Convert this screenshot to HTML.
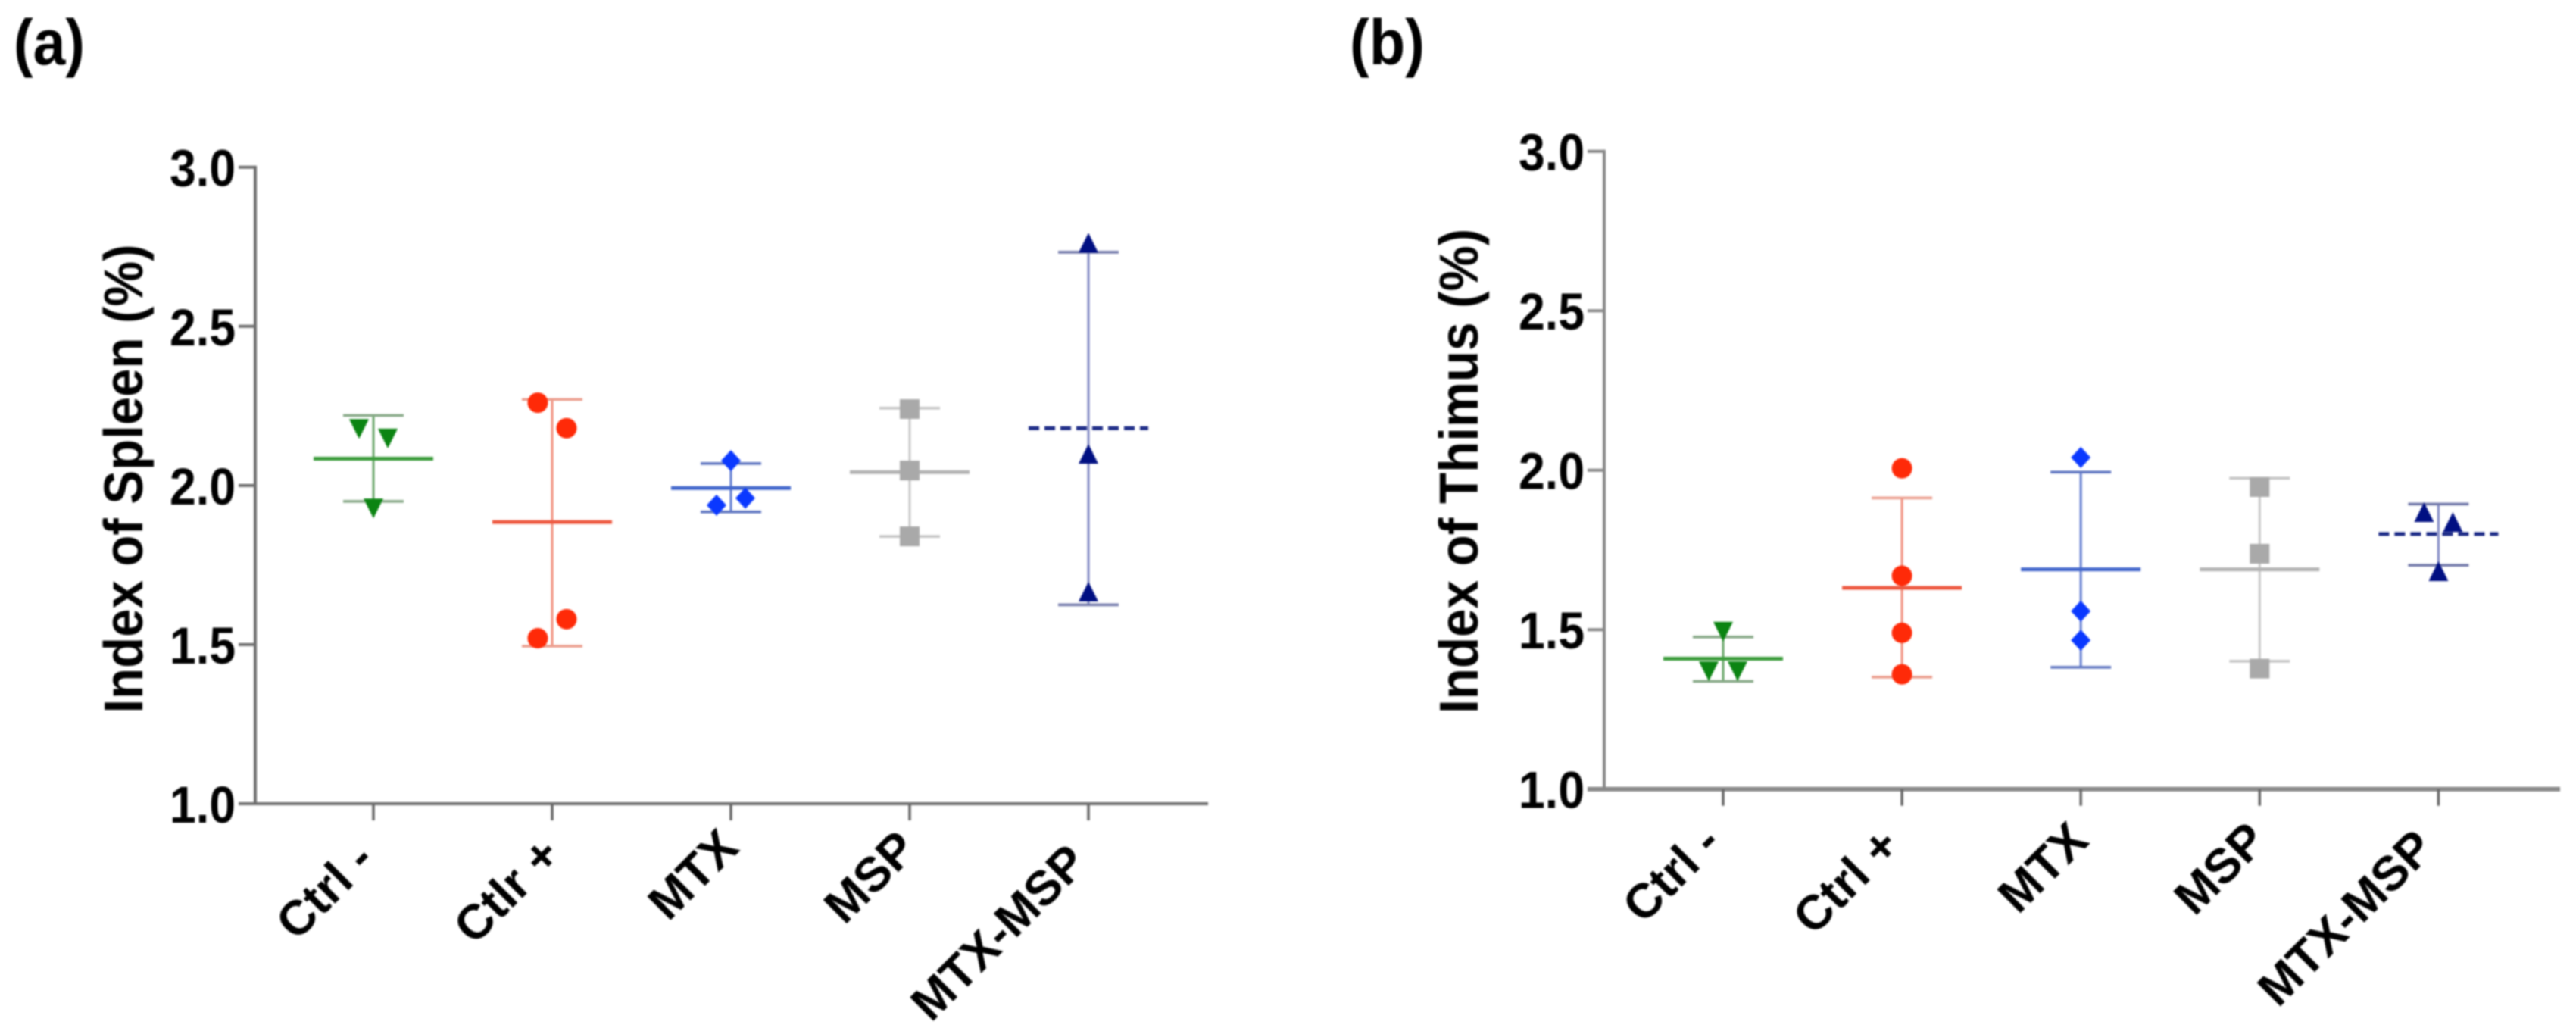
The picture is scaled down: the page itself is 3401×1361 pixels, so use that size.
<!DOCTYPE html>
<html lang="en">
<head>
<meta charset="utf-8">
<title>Index of Spleen and Thimus</title>
<style>
html,body{margin:0;padding:0;background:#fff;}
svg{display:block;filter:blur(1.1px);}
text{font-family:"Liberation Sans",sans-serif;font-weight:bold;fill:#000;}
</style>
</head>
<body>
<svg id="figure" xmlns="http://www.w3.org/2000/svg" width="3401" height="1361" viewBox="0 0 3401 1361">
  <rect x="0" y="0" width="3401" height="1361" fill="#fff"/>
  <text x="18" y="85" font-size="84" textLength="94" lengthAdjust="spacingAndGlyphs">(a)</text>
  <text x="1782" y="85" font-size="84" textLength="99" lengthAdjust="spacingAndGlyphs">(b)</text>
  <text transform="translate(188 632) rotate(-90)" text-anchor="middle" font-size="72" textLength="619" lengthAdjust="spacingAndGlyphs">Index of Spleen (%)</text>
  <text transform="translate(1951 622) rotate(-90)" text-anchor="middle" font-size="72" textLength="640" lengthAdjust="spacingAndGlyphs">Index of Thimus (%)</text>
  <g id="panel-a"></g>
  <g id="panel-b"></g>
</svg>
<script>
// Shared axis data
const yTickValues = [1.0, 1.5, 2.0, 2.5, 3.0];
const yTickLabels = ["1.0", "1.5", "2.0", "2.5", "3.0"];

// Spleen chart data
const spleenCategories = ["Ctrl -", "Ctlr +", "MTX", "MSP", "MTX-MSP"];
const spleenPoints = [
  [2.18, 2.15, 1.93],
  [2.26, 2.18, 1.52, 1.58],
  [2.078, 1.938, 1.96],
  [2.24, 2.047, 1.84],
  [2.76, 2.097, 1.664]
];
const spleenMeans = [2.084, 1.885, 1.992, 2.042, 2.18];
const spleenUpper = [2.22, 2.27, 2.069, 2.243, 2.733];
const spleenLower = [1.95, 1.495, 1.917, 1.84, 1.625];

// Thimus chart data
const thimusCategories = ["Ctrl -", "Ctrl +", "MTX", "MSP", "MTX-MSP"];
const thimusPoints = [
  [1.496, 1.372, 1.372],
  [2.006, 1.669, 1.49, 1.36],
  [2.04, 1.558, 1.467],
  [1.947, 1.738, 1.378],
  [1.866, 1.835, 1.681]
];
const thimusMeans = [1.409, 1.631, 1.689, 1.689, 1.80];
const thimusUpper = [1.477, 1.913, 1.994, 1.975, 1.894];
const thimusLower = [1.338, 1.351, 1.382, 1.401, 1.702];

// Series appearance
const markerShapes = ["triangle-down", "circle", "diamond", "square", "triangle-up"];
const markerColors = ["#0b8412", "#ff2a08", "#0a38ff", "#a9a9a9", "#000f82"];
const meanColors = ["#3c9c3c", "#ee5a42", "#4468cc", "#b4b4b4", "#1c2a86"];
const whiskerColors = ["#6aa66a", "#f0907e", "#5f7bd0", "#c8c8c8", "#8088c4"];
const capColors = ["#86a886", "#eb9c8c", "#5d74c0", "#c4c4c4", "#6f76a8"];
const meanDash = [null, null, null, null, "14 7"];

const NS = "http://www.w3.org/2000/svg";
const JITTER = 19;
const SWARM_GAP = 0.085;

function line(parent, x1, y1, x2, y2, color, width) {
  const el = document.createElementNS(NS, "line");
  el.setAttribute("x1", x1);
  el.setAttribute("y1", y1);
  el.setAttribute("x2", x2);
  el.setAttribute("y2", y2);
  el.setAttribute("stroke", color);
  el.setAttribute("stroke-width", width);
  parent.appendChild(el);
  return el;
}

function label(parent, x, y, str, size, anchor, transform) {
  const el = document.createElementNS(NS, "text");
  el.setAttribute("x", x);
  el.setAttribute("y", y);
  el.setAttribute("font-size", size);
  el.setAttribute("text-anchor", anchor);
  if (transform) el.setAttribute("transform", transform);
  el.textContent = str;
  parent.appendChild(el);
  return el;
}

function marker(parent, shape, cx, cy, color) {
  let el;
  if (shape === "circle") {
    el = document.createElementNS(NS, "circle");
    el.setAttribute("cx", cx);
    el.setAttribute("cy", cy);
    el.setAttribute("r", 13.5);
  } else if (shape === "square") {
    el = document.createElementNS(NS, "rect");
    el.setAttribute("x", cx - 13);
    el.setAttribute("y", cy - 13);
    el.setAttribute("width", 26);
    el.setAttribute("height", 26);
  } else {
    el = document.createElementNS(NS, "polygon");
    let pts;
    if (shape === "diamond") {
      pts = [[cx, cy - 14], [cx + 13, cy], [cx, cy + 14], [cx - 13, cy]];
    } else if (shape === "triangle-down") {
      pts = [[cx - 13, cy - 12], [cx + 13, cy - 12], [cx, cy + 14]];
    } else {
      pts = [[cx - 13, cy + 12], [cx + 13, cy + 12], [cx, cy - 14]];
    }
    el.setAttribute("points", pts.map(function (p) { return p.join(","); }).join(" "));
  }
  el.setAttribute("fill", color);
  parent.appendChild(el);
  return el;
}

// Points that sit close together are spread sideways, left then right
function swarmOffsets(values) {
  const offsets = values.map(function () { return 0; });
  for (let i = 0; i < values.length - 1; i++) {
    if (offsets[i] === 0 && Math.abs(values[i] - values[i + 1]) < SWARM_GAP) {
      offsets[i] = -JITTER;
      offsets[i + 1] = JITTER;
    }
  }
  return offsets;
}

function drawPanel(root, cfg) {
  const xScale = function (i) { return cfg.x0 + cfg.step * i; };
  const yScale = function (v) { return cfg.yBase - (v - 1) * cfg.unit; };

  // Y axis
  const yAxis = line(root, cfg.axisX, yScale(3) - 2, cfg.axisX, cfg.yBase, cfg.axisColor, 4);
  
  
  yTickValues.forEach(function (v, i) {
    const t = line(root, cfg.axisX - 22, yScale(v), cfg.axisX, yScale(v), cfg.axisColor, 4);
    
    
    const l = label(root, cfg.axisX - 26, yScale(v) + 25, yTickLabels[i], 69, "end");
    
    
    l.setAttribute("textLength", 87);
    l.setAttribute("lengthAdjust", "spacingAndGlyphs");
  });

  // X axis
  const xAxis = line(root, cfg.axisX - 22, cfg.yBase, cfg.axisEnd, cfg.yBase, cfg.axisColor, cfg.xAxisWidth);
  
  

  cfg.categories.forEach(function (name, i) {
    const x = xScale(i);
    const t = line(root, x, cfg.yBase, x, cfg.yBase + 22, "#666", 3.5);
    
    
    const lx = x + cfg.labelNudgeX[i];
    const ly = cfg.yBase + 81 + cfg.labelNudgeY[i];
    const l = label(root, lx, ly, name, 64, "end", "rotate(-45 " + lx + " " + ly + ")");
    
    

    // Error bar and mean
    const whisker = line(root, x, yScale(cfg.upper[i]), x, yScale(cfg.lower[i]), whiskerColors[i], 3);
    
    
    const capTop = line(root, x - 40, yScale(cfg.upper[i]), x + 40, yScale(cfg.upper[i]), capColors[i], 3.5);
    
    
    const capBottom = line(root, x - 40, yScale(cfg.lower[i]), x + 40, yScale(cfg.lower[i]), capColors[i], 3.5);
    
    
    const mean = line(root, x - 79, yScale(cfg.means[i]), x + 79, yScale(cfg.means[i]), meanColors[i], 5);
    
    
    if (meanDash[i]) mean.setAttribute("stroke-dasharray", meanDash[i]);

    // Individual values
    const offsets = swarmOffsets(cfg.points[i]);
    cfg.points[i].forEach(function (v, j) {
      const m = marker(root, markerShapes[i], x + offsets[j], yScale(v), markerColors[i]);
      
      
    });
  });
}

drawPanel(document.getElementById("panel-a"), {
  categories: spleenCategories,
  points: spleenPoints,
  means: spleenMeans,
  upper: spleenUpper,
  lower: spleenLower,
  x0: 493, step: 236, axisX: 337, axisEnd: 1595,
  yBase: 1061, unit: 420.15, axisColor: "#6e6e6e", xAxisWidth: 4,
  labelNudgeX: [4, 14, 13, 12, 1],
  labelNudgeY: [-4, -10, -20, -18, 0]
});

drawPanel(document.getElementById("panel-b"), {
  categories: thimusCategories,
  points: thimusPoints,
  means: thimusMeans,
  upper: thimusUpper,
  lower: thimusLower,
  x0: 2275, step: 236.1, axisX: 2118, axisEnd: 3380,
  yBase: 1041.7, unit: 421, axisColor: "#888888", xAxisWidth: 6,
  labelNudgeX: [0, 0, 13, 12, -3],
  labelNudgeY: [-7, -3, -10, -10, 0]
});
</script>
</body>
</html>
